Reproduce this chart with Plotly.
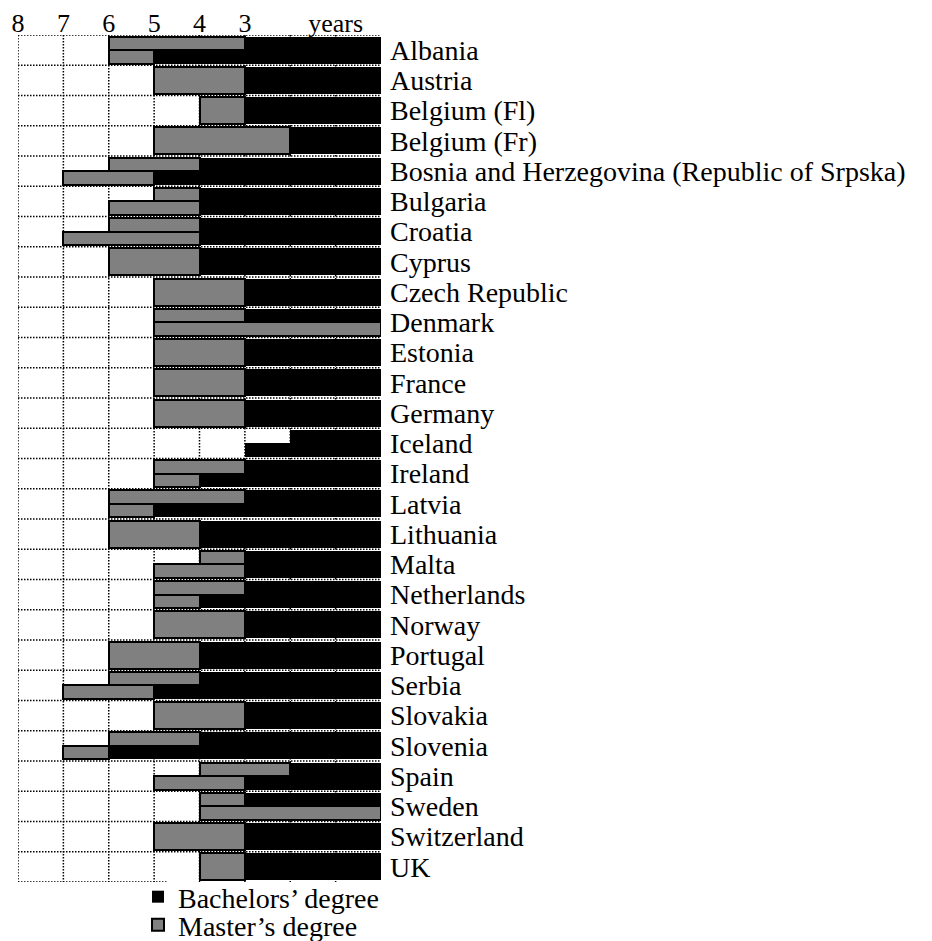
import plotly.graph_objects as go

countries = ["Albania", "Austria", "Belgium (Fl)", "Belgium (Fr)",
             "Bosnia and Herzegovina (Republic of Srpska)", "Bulgaria", "Croatia",
             "Cyprus", "Czech Republic", "Denmark", "Estonia", "France", "Germany",
             "Iceland", "Ireland", "Latvia", "Lithuania", "Malta", "Netherlands",
             "Norway", "Portugal", "Serbia", "Slovakia", "Slovenia", "Spain",
             "Sweden", "Switzerland", "UK"]
# first (upper) programme
bachelor_1 = [3, 3, 3, 2, 4, 4, 4, 4, 3, 3, 3, 3, 3, 2, 3, 3, 4, 3, 3, 3, 4, 4, 3, 4, 2, 3, 3, 3]
master_1 = [3, 2, 1, 3, 2, 1, 2, 2, 2, 2, 2, 2, 2, None, 2, 3, 2, 1, 2, 2, 2, 2, 2, 2, 2, 1, 2, 1]
# second (lower) programme, None where only one
bachelor_2 = [5, None, None, None, 5, 4, 4, None, None, None, None, None, None, 3, 4, 5, None,
              3, 4, None, None, 5, None, 6, 3, None, None, None]
master_2 = [1, None, None, None, 2, 2, 3, None, None, 5, None, None, None, None, 1, 1, None,
            2, 1, None, None, 2, None, 1, 2, 4, None, None]

year_ticks = [8, 7, 6, 5, 4, 3, 2, 1]
year_labels = ["8", "7", "6", "5", "4", "3", "", "years"]

FONT = "Liberation Serif"
FS = 28

# build bar lists
by, bx, bw = [], [], []
my, mx, mb, mw = [], [], [], []
for i, c in enumerate(countries):
    two = bachelor_2[i] is not None or master_2[i] is not None
    progs = [(bachelor_1[i], master_1[i], i - 0.225 if two else i, 0.45 if two else 0.9)]
    if two:
        progs.append((bachelor_2[i] or 0, master_2[i], i + 0.225, 0.45))
    for b, m, y, w in progs:
        if b:
            by.append(y); bx.append(b); bw.append(w)
        if m:
            my.append(y); mx.append(m); mb.append(b); mw.append(w)

fig = go.Figure()
fig.add_trace(go.Bar(y=by, x=bx, base=[0] * len(bx), width=bw, orientation="h",
                     marker=dict(color="black", line=dict(width=0)),
                     name="Bachelors\u2019 degree", legend="legend", showlegend=True))
fig.add_trace(go.Bar(y=my, x=mx, base=mb, width=mw, orientation="h",
                     marker=dict(color="#808080", line=dict(color="black", width=2)),
                     name="Master\u2019s degree", legend="legend2", showlegend=True))

dash = "1.5px,1.5px"
shapes = []
for v in year_ticks:
    shapes.append(dict(type="line", xref="x", yref="y", x0=v, x1=v, y0=-0.5,
                       y1=len(countries) - 0.5, layer="below",
                       line=dict(color="black", width=1.5, dash=dash)))
for k in range(len(countries) + 1):
    xend = 0 if k < len(countries) else 4.72
    shapes.append(dict(type="line", xref="x", yref="y", x0=8, x1=xend, y0=k - 0.5,
                       y1=k - 0.5, layer="below",
                       line=dict(color="black", width=1.5, dash=dash)))

fig.update_layout(
    width=924, height=933,
    margin=dict(l=10, r=551, t=27, b=59, autoexpand=False),
    plot_bgcolor="white", paper_bgcolor="white",
    barmode="overlay", bargap=0, showlegend=True,
    font=dict(family=FONT, size=FS, color="black"),
    shapes=shapes,
    xaxis=dict(range=[8, 0], side="top", tickvals=year_ticks, ticktext=year_labels,
               showgrid=False, zeroline=False, ticks="", showline=False, automargin=False,
               ticklabelstandoff=-3, tickfont=dict(family=FONT, size=26)),
    yaxis=dict(range=[len(countries) - 0.5, -0.5], side="right",
               tickvals=list(range(len(countries))), ticktext=countries,
               showgrid=False, zeroline=False, ticks="", showline=False, automargin=False,
               ticklabelstandoff=8, tickfont=dict(family=FONT, size=FS)),
    legend=dict(x=0.3306, xanchor="left", y=-0.0177, yanchor="middle",
                bgcolor="rgba(0,0,0,0)", font=dict(family=FONT, size=FS)),
    legend2=dict(x=0.3306, xanchor="left", y=-0.0508, yanchor="middle",
                 bgcolor="rgba(0,0,0,0)", font=dict(family=FONT, size=FS)),
)

fig.write_html("out.html")
